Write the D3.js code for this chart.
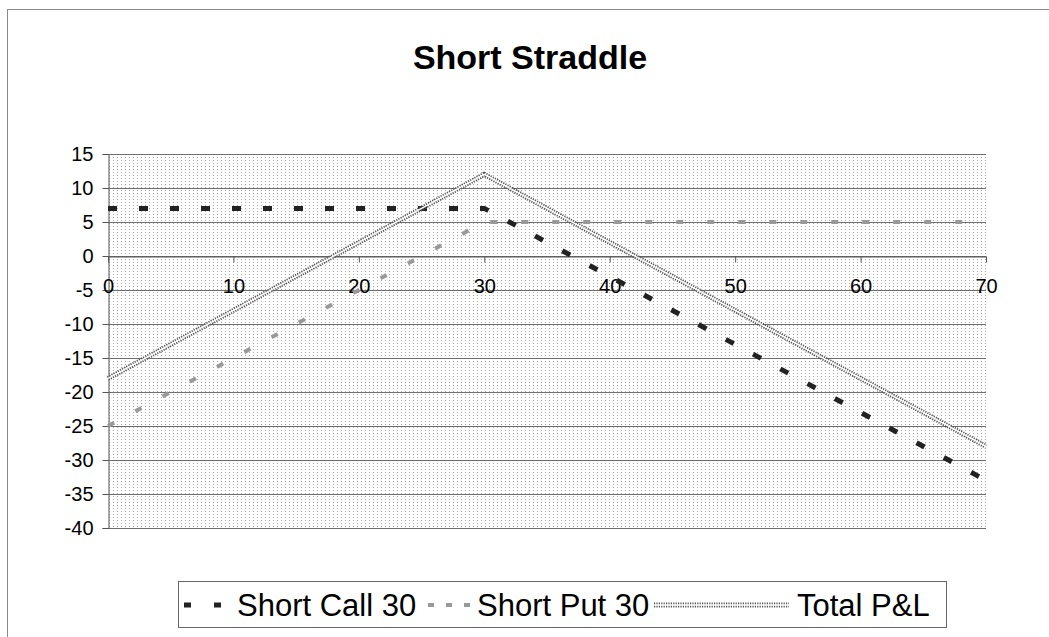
<!DOCTYPE html>
<html lang="en">
<head>
    <meta charset="UTF-8">
    <title>Short Straddle</title>
    <script src="https://d3js.org/d3.v7.min.js"></script>
    <style>
        body { margin: 0; background: white; font-family: "Liberation Sans", Arial, sans-serif; }
        svg { display: block; }
        .grid { stroke: #6e6e6e; stroke-width: 1; }
    </style>
</head>
<body>
    <svg id="chart"></svg>

    <script>
        // underlying price at expiry and P&L of each leg
        const price = [0, 10, 20, 30, 40, 50, 60, 70];
        const shortCall = [7, 7, 7, 7, -3, -13, -23, -33];
        const shortPut = [-25, -15, -5, 5, 5, 5, 5, 5];
        const totalPL = [-18, -8, 2, 12, 2, -8, -18, -28];
        const seriesNames = ["Short Call 30", "Short Put 30", "Total P&L"];
        const xTicks = [0, 10, 20, 30, 40, 50, 60, 70];
        const yTicks = [15, 10, 5, 0, -5, -10, -15, -20, -25, -30, -35, -40];

        const width = 1049, height = 637;
        const svg = d3.select("#chart").attr("width", width).attr("height", height);

        const x = d3.scaleLinear().domain([0, 70]).range([108, 986]);
        const y = d3.scaleLinear().domain([-40, 15]).range([528, 154]);

        // dotted fill for the plot area
        const defs = svg.append("defs");
        const pat = defs.append("pattern")
            .attr("id", "dots")
            .attr("patternUnits", "userSpaceOnUse")
            .attr("width", 4).attr("height", 3);
        pat.append("rect").attr("width", 4).attr("height", 3).attr("fill", "white");
        pat.append("rect").attr("x", 1).attr("y", 1).attr("width", 1).attr("height", 1).attr("fill", "#a8a8a8");

        // chart frame
        svg.append("rect")
            .attr("x", 7.5).attr("y", 9.5)
            .attr("width", 1060).attr("height", 640)
            .attr("fill", "none").attr("stroke", "#8a8a8a");

        svg.append("text")
            .attr("x", 530).attr("y", 69)
            .attr("text-anchor", "middle")
            .attr("font-size", "34px").attr("font-weight", "bold")
            .text("Short Straddle");

        // plot area
        svg.append("rect")
            .attr("x", x(0)).attr("y", y(15))
            .attr("width", x(70) - x(0)).attr("height", y(-40) - y(15))
            .attr("fill", "url(#dots)");

        svg.append("g").selectAll("line")
            .data(yTicks)
            .join("line")
            .attr("class", "grid")
            .attr("x1", x(0)).attr("x2", x(70))
            .attr("y1", d => Math.round(y(d)) + 0.5).attr("y2", d => Math.round(y(d)) + 0.5);

        // y axis
        const yAxis = svg.append("g")
            .attr("transform", `translate(${x(0) + 0.5},0)`)
            .call(d3.axisLeft(y).tickValues(yTicks).tickSize(6).tickPadding(9).tickFormat(d => String(d)));
        yAxis.select(".domain").attr("stroke", "#555");
        yAxis.selectAll(".tick line").attr("stroke", "#555");
        yAxis.selectAll("text").attr("font-size", "20px").attr("font-family", "Liberation Sans, Arial, sans-serif");

        // x axis on the zero line
        const xAxis = svg.append("g")
            .attr("transform", `translate(0,${Math.round(y(0)) + 0.5})`)
            .call(d3.axisBottom(x).tickValues(xTicks).tickSize(6).tickSizeOuter(0).tickPadding(16).tickFormat(d => String(d)));
        xAxis.select(".domain").attr("stroke", "#555");
        xAxis.selectAll(".tick line").attr("stroke", "#555");
        xAxis.selectAll("text").attr("font-size", "20px").attr("font-family", "Liberation Sans, Arial, sans-serif");

        const line = d3.line().x((d, i) => x(price[i])).y(d => y(d));

        // short put: light gray dashes
        svg.append("path")
            .attr("d", line(shortPut))
            .attr("fill", "none").attr("stroke", "#999")
            .attr("stroke-width", 4).attr("stroke-dasharray", "7,24");

        // short call: heavy dark dashes
        svg.append("path")
            .attr("d", line(shortCall))
            .attr("fill", "none").attr("stroke", "#222")
            .attr("stroke-width", 5).attr("stroke-dasharray", "9,22");

        // total: double dotted line
        svg.append("path")
            .attr("d", line(totalPL))
            .attr("fill", "none").attr("stroke", "#555")
            .attr("stroke-width", 5).attr("stroke-dasharray", "1.2,1.2");
        svg.append("path")
            .attr("d", line(totalPL))
            .attr("fill", "none").attr("stroke", "white")
            .attr("stroke-width", 1.4);

        // legend
        const lg = svg.append("g");
        lg.append("rect")
            .attr("x", 178.5).attr("y", 581.5)
            .attr("width", 768).attr("height", 46)
            .attr("fill", "white").attr("stroke", "#666");

        const ly = 605;
        const entries = [
            { name: seriesNames[0], x1: 184, x2: 231, tx: 237 },
            { name: seriesNames[1], x1: 428, x2: 470, tx: 477 },
            { name: seriesNames[2], x1: 654, x2: 789, tx: 797 }
        ];

        lg.append("line")
            .attr("x1", entries[0].x1).attr("x2", entries[0].x2).attr("y1", ly).attr("y2", ly)
            .attr("stroke", "#222").attr("stroke-width", 5).attr("stroke-dasharray", "7,23");
        lg.append("line")
            .attr("x1", entries[1].x1).attr("x2", entries[1].x2).attr("y1", ly).attr("y2", ly)
            .attr("stroke", "#999").attr("stroke-width", 4).attr("stroke-dasharray", "6,12");
        lg.append("line")
            .attr("x1", entries[2].x1).attr("x2", entries[2].x2).attr("y1", ly).attr("y2", ly)
            .attr("stroke", "#555").attr("stroke-width", 5).attr("stroke-dasharray", "1.2,1.2");
        lg.append("line")
            .attr("x1", entries[2].x1).attr("x2", entries[2].x2).attr("y1", ly).attr("y2", ly)
            .attr("stroke", "white").attr("stroke-width", 1.4);

        lg.selectAll("text.lbl")
            .data(entries)
            .join("text")
            .attr("class", "lbl")
            .attr("x", d => d.tx).attr("y", ly + 11)
            .attr("font-size", "31px")
            .text(d => d.name);
    </script>
</body>
</html>
